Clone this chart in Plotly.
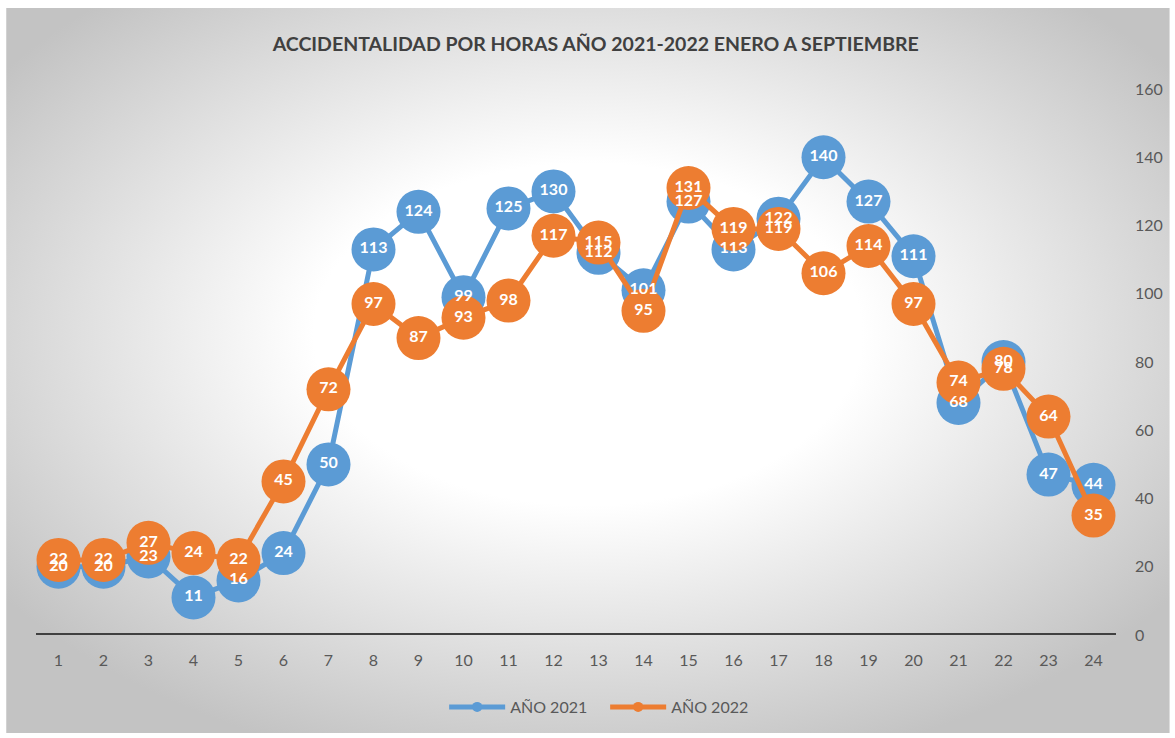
import base64
import plotly.graph_objects as go

hours = [str(h) for h in range(1, 25)]
y2021 = [20, 20, 23, 11, 16, 24, 50, 113, 124, 99, 125, 130, 112, 101, 127, 113, 122, 140, 127, 111, 68, 80, 47, 44]
y2022 = [22, 22, 27, 24, 22, 45, 72, 97, 87, 93, 98, 117, 115, 95, 131, 119, 119, 106, 114, 97, 74, 78, 64, 35]
series_names = ["AÑO 2021", "AÑO 2022"]
y_ticks = [0, 20, 40, 60, 80, 100, 120, 140, 160]

BLUE = "#5B9BD5"
ORANGE = "#ED7D31"
FONT = "Lato, 'Noto Sans', sans-serif"

W, H = 1175, 738
L, R, T, B = 36, 54, 89, 103
pw, ph = W - L - R, H - T - B

svg = (
    '<svg xmlns="http://www.w3.org/2000/svg" width="1169" height="725" preserveAspectRatio="none">'
    '<defs><radialGradient id="g" cx="0.5" cy="0.45" r="0.62">'
    '<stop offset="0" stop-color="#ffffff"/>'
    '<stop offset="0.38" stop-color="#ffffff"/>'
    '<stop offset="1" stop-color="#c3c3c3"/>'
    '</radialGradient></defs>'
    '<rect x="0" y="0" width="1169" height="725" fill="url(#g)"/></svg>'
)
src = "data:image/svg+xml;base64," + base64.b64encode(svg.encode()).decode()

def px_x(p):
    return (p - L) / pw

def px_y(p):
    return (H - B - p) / ph

fig = go.Figure()

for name, vals, col in [(series_names[0], y2021, BLUE), (series_names[1], y2022, ORANGE)]:
    fig.add_trace(go.Scatter(
        x=hours, y=vals, mode="lines+markers", name=name, showlegend=False,
        line=dict(color=col, width=5),
        marker=dict(color=col, size=44),
        hoverinfo="skip",
    ))
for name, vals, col in [(series_names[0], y2021, BLUE), (series_names[1], y2022, ORANGE)]:
    fig.add_trace(go.Scatter(
        x=hours, y=vals, mode="text", text=[str(v) for v in vals],
        textposition="middle center", showlegend=False,
        textfont=dict(color="white", size=16, family=FONT, weight="bold"),
        hoverinfo="skip",
    ))
for name, col in [(series_names[0], BLUE), (series_names[1], ORANGE)]:
    fig.add_trace(go.Scatter(
        x=[None], y=[None], mode="lines+markers", name=name,
        line=dict(color=col, width=5), marker=dict(color=col, size=10),
    ))

fig.update_layout(
    width=W, height=H,
    margin=dict(l=L, r=R, t=T, b=B),
    paper_bgcolor="white", plot_bgcolor="rgba(0,0,0,0)",
    font=dict(family=FONT, color="#595959", size=16),
    title=dict(
        text="ACCIDENTALIDAD POR HORAS AÑO 2021-2022 ENERO A SEPTIEMBRE",
        x=0.507, xanchor="center", y=1 - 44 / H, yanchor="middle",
        font=dict(size=19.5, color="#404040", family=FONT, weight="bold"),
    ),
    xaxis=dict(
        type="category", range=[-0.5, 23.5], showgrid=False, zeroline=False,
        showline=False, ticks="", tickfont=dict(size=16, color="#595959"),
        ticklabelstandoff=14,
    ),
    yaxis=dict(
        side="right", range=[0, 160], tickvals=y_ticks, showgrid=False,
        zeroline=False, showline=False, ticks="",
        tickfont=dict(size=16, color="#595959"), ticklabelstandoff=18,
    ),
    shapes=[dict(type="line", xref="paper", yref="y", x0=0, x1=1, y0=0, y1=0,
                 line=dict(color="#404040", width=4), layer="above")],
    legend=dict(
        orientation="h", x=0.527, xanchor="center", y=px_y(707), yanchor="middle",
        font=dict(size=16, color="#595959"), bgcolor="rgba(0,0,0,0)",
        itemwidth=56, entrywidth=90, traceorder="normal",
    ),
    images=[dict(
        source=src, xref="paper", yref="paper",
        x=px_x(6), y=px_y(8), sizex=px_x(1175) - px_x(6), sizey=px_y(8) - px_y(733),
        xanchor="left", yanchor="top", sizing="stretch", layer="below",
    )],
    showlegend=True,
)

fig.write_html("out.html", config={"displayModeBar": False},
               post_script="document.body.style.margin='0';")
